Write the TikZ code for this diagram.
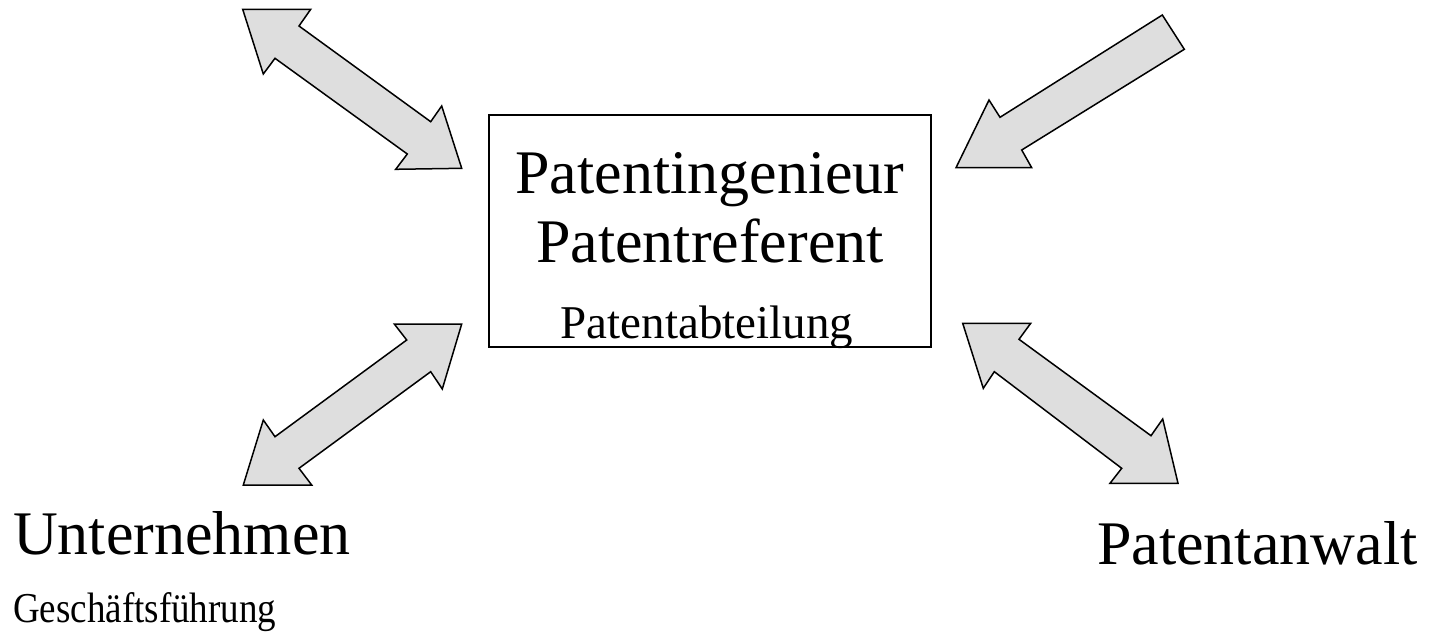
\documentclass[tikz,border=0pt]{standalone}
\usepackage{fontspec}
\usepackage{graphicx}
\setmainfont{Liberation Serif}
\begin{document}
\begin{tikzpicture}[x=1pt,y=-1pt,
  blockarrow/.style={draw=black, fill=black!13, line width=1.5pt, line join=miter},
  bigtext/.style={inner sep=0pt, font=\fontsize{62}{70}\selectfont},
  smalltext/.style={inner sep=0pt, font=\fontsize{47}{54}\selectfont},
  boxstyle/.style={draw=black, line width=1.3pt}]
\useasboundingbox (0,0) rectangle (1437,632);
% central box
\draw[boxstyle] (489,115) rectangle (931,347);
\node[bigtext, anchor=base] (ing) at (710,193) {Patentingenieur};
\node[bigtext, anchor=base] (ref) at (710,262) {Patentreferent};
\node[smalltext, anchor=base] (abt) at (707,338) {Patentabteilung};
% outer labels
\node[bigtext, anchor=base west] (unt) at (13,554) {Unternehmen};
\node[inner sep=0pt, font=\fontsize{37}{44}\selectfont, anchor=base west] (gf) at (13,622) {\scalebox{1}[1.15]{Geschäftsführung}};
\node[bigtext, anchor=base west] (anw) at (1097,564) {Patentanwalt};
% top-left double arrow
\draw[blockarrow] (242.7,9.3) -- (310.7,9.3) -- (299,26) -- (430.7,121.7) -- (441.7,106)
  -- (461.7,168.3) -- (395.7,169.3) -- (407.3,154) -- (275,58.3) -- (263.3,74) -- cycle;
% top-right single arrow
\draw[blockarrow] (1162.3,15) -- (1184.3,49.3) -- (1021.7,150) -- (1031.7,167.7)
  -- (956,167.7) -- (989,100) -- (1000,117.3) -- cycle;
% bottom-left double arrow
\draw[blockarrow] (461.7,324) -- (394.3,324) -- (406.7,340) -- (275,436.7) -- (263.3,420)
  -- (243.3,485) -- (311.7,485) -- (299,468.3) -- (430.7,371.7) -- (442.3,389) -- cycle;
% bottom-right double arrow
\draw[blockarrow] (962.7,323.3) -- (1030.7,323.3) -- (1019,339.3) -- (1151,435.7) -- (1162.7,419)
  -- (1178,483.3) -- (1110,483.3) -- (1121.7,468.3) -- (994.3,371.7) -- (983.3,388.3) -- cycle;
\end{tikzpicture}
\end{document}
